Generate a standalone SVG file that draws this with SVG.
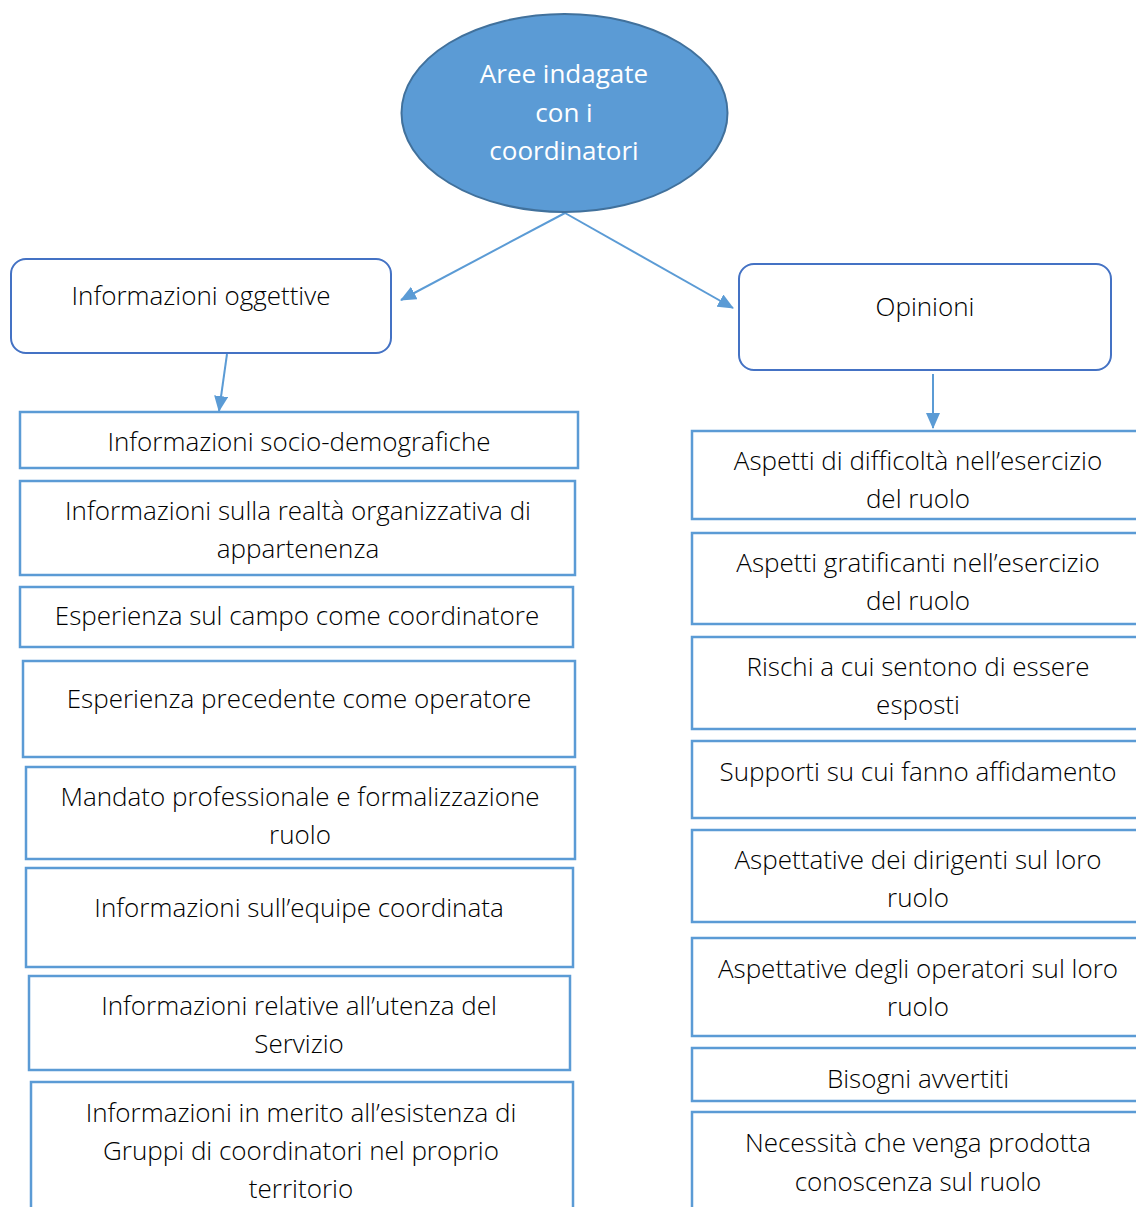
<svg xmlns="http://www.w3.org/2000/svg" width="1136" height="1207" viewBox="0 0 1136 1207">
<style>
  text { font-family: "Open Sans", "Liberation Sans", sans-serif; font-size: 26px; font-weight: 300; fill: #000; text-anchor: middle; dominant-baseline: central; }
  .box { fill: #fff; stroke: #5B9BD5; stroke-width: 2.5; }
  .rbox { fill: #fff; stroke: #4472C4; stroke-width: 2; }
  .conn { stroke: #5B9BD5; stroke-width: 2; fill: none; marker-end: url(#arr); }
  .wt { fill: #fff; font-weight: 400; }
</style>
<defs>
  <marker id="arr" markerUnits="userSpaceOnUse" markerWidth="16" markerHeight="14" refX="15" refY="7" orient="auto">
    <path d="M0,0 L16,7 L0,14 z" fill="#5B9BD5"/>
  </marker>
</defs>
<rect width="1136" height="1207" fill="#fff"/>
<g id="connectors">
  <line class="conn" x1="565" y1="213" x2="401" y2="300"/>
  <line class="conn" x1="565" y1="213" x2="733" y2="308"/>
  <line class="conn" x1="227" y1="354" x2="219" y2="411"/>
  <line class="conn" x1="933" y1="374" x2="933" y2="428"/>
</g>
<g id="root">
  <ellipse cx="564.5" cy="113" rx="163" ry="99" fill="#5B9BD5" stroke="#41719C" stroke-width="2"/>
  <text class="wt" x="564" y="73">Aree indagate</text>
  <text class="wt" x="564" y="112">con i</text>
  <text class="wt" x="564" y="150">coordinatori</text>
</g>
<g id="info-oggettive">
  <rect class="rbox" x="11" y="259" width="380" height="94" rx="15"/>
  <text x="201" y="295">Informazioni oggettive</text>
</g>
<g id="opinioni">
  <rect class="rbox" x="739" y="264" width="372" height="106" rx="15"/>
  <text x="925" y="306">Opinioni</text>
</g>
<g id="l1">
  <rect class="box" x="20" y="412" width="558" height="56"/>
  <text x="299" y="441">Informazioni socio-demografiche</text>
</g>
<g id="l2">
  <rect class="box" x="20" y="481" width="555" height="94"/>
  <text x="298" y="510">Informazioni sulla realtà organizzativa di</text>
  <text x="298" y="548">appartenenza</text>
</g>
<g id="l3">
  <rect class="box" x="20" y="587" width="553" height="60"/>
  <text x="297" y="615">Esperienza sul campo come coordinatore</text>
</g>
<g id="l4">
  <rect class="box" x="23" y="661" width="552" height="96"/>
  <text x="299" y="698">Esperienza precedente come operatore</text>
</g>
<g id="l5">
  <rect class="box" x="26" y="767" width="549" height="92"/>
  <text x="300" y="796">Mandato professionale e formalizzazione</text>
  <text x="300" y="834">ruolo</text>
</g>
<g id="l6">
  <rect class="box" x="26" y="868" width="547" height="99"/>
  <text x="299" y="907">Informazioni sull’equipe coordinata</text>
</g>
<g id="l7">
  <rect class="box" x="29" y="976" width="541" height="94"/>
  <text x="299" y="1005">Informazioni relative all’utenza del</text>
  <text x="299" y="1043">Servizio</text>
</g>
<g id="l8">
  <rect class="box" x="31" y="1082" width="542" height="140"/>
  <text x="301" y="1112">Informazioni in merito all’esistenza di</text>
  <text x="301" y="1150">Gruppi di coordinatori nel proprio</text>
  <text x="301" y="1188">territorio</text>
</g>
<g id="r1">
  <rect class="box" x="692" y="431" width="460" height="88"/>
  <text x="918" y="460">Aspetti di difficoltà nell’esercizio</text>
  <text x="918" y="498">del ruolo</text>
</g>
<g id="r2">
  <rect class="box" x="692" y="533" width="460" height="91"/>
  <text x="918" y="562">Aspetti gratificanti nell’esercizio</text>
  <text x="918" y="600">del ruolo</text>
</g>
<g id="r3">
  <rect class="box" x="692" y="637" width="460" height="92"/>
  <text x="918" y="666">Rischi a cui sentono di essere</text>
  <text x="918" y="704">esposti</text>
</g>
<g id="r4">
  <rect class="box" x="692" y="741" width="460" height="77"/>
  <text x="918" y="771">Supporti su cui fanno affidamento</text>
</g>
<g id="r5">
  <rect class="box" x="692" y="830" width="460" height="92"/>
  <text x="918" y="859">Aspettative dei dirigenti sul loro</text>
  <text x="918" y="897">ruolo</text>
</g>
<g id="r6">
  <rect class="box" x="692" y="938" width="460" height="98"/>
  <text x="918" y="968">Aspettative degli operatori sul loro</text>
  <text x="918" y="1006">ruolo</text>
</g>
<g id="r7">
  <rect class="box" x="692" y="1048" width="460" height="53"/>
  <text x="918" y="1078">Bisogni avvertiti</text>
</g>
<g id="r8">
  <rect class="box" x="692" y="1112" width="460" height="110"/>
  <text x="918" y="1142">Necessità che venga prodotta</text>
  <text x="918" y="1181">conoscenza sul ruolo</text>
</g>
</svg>
